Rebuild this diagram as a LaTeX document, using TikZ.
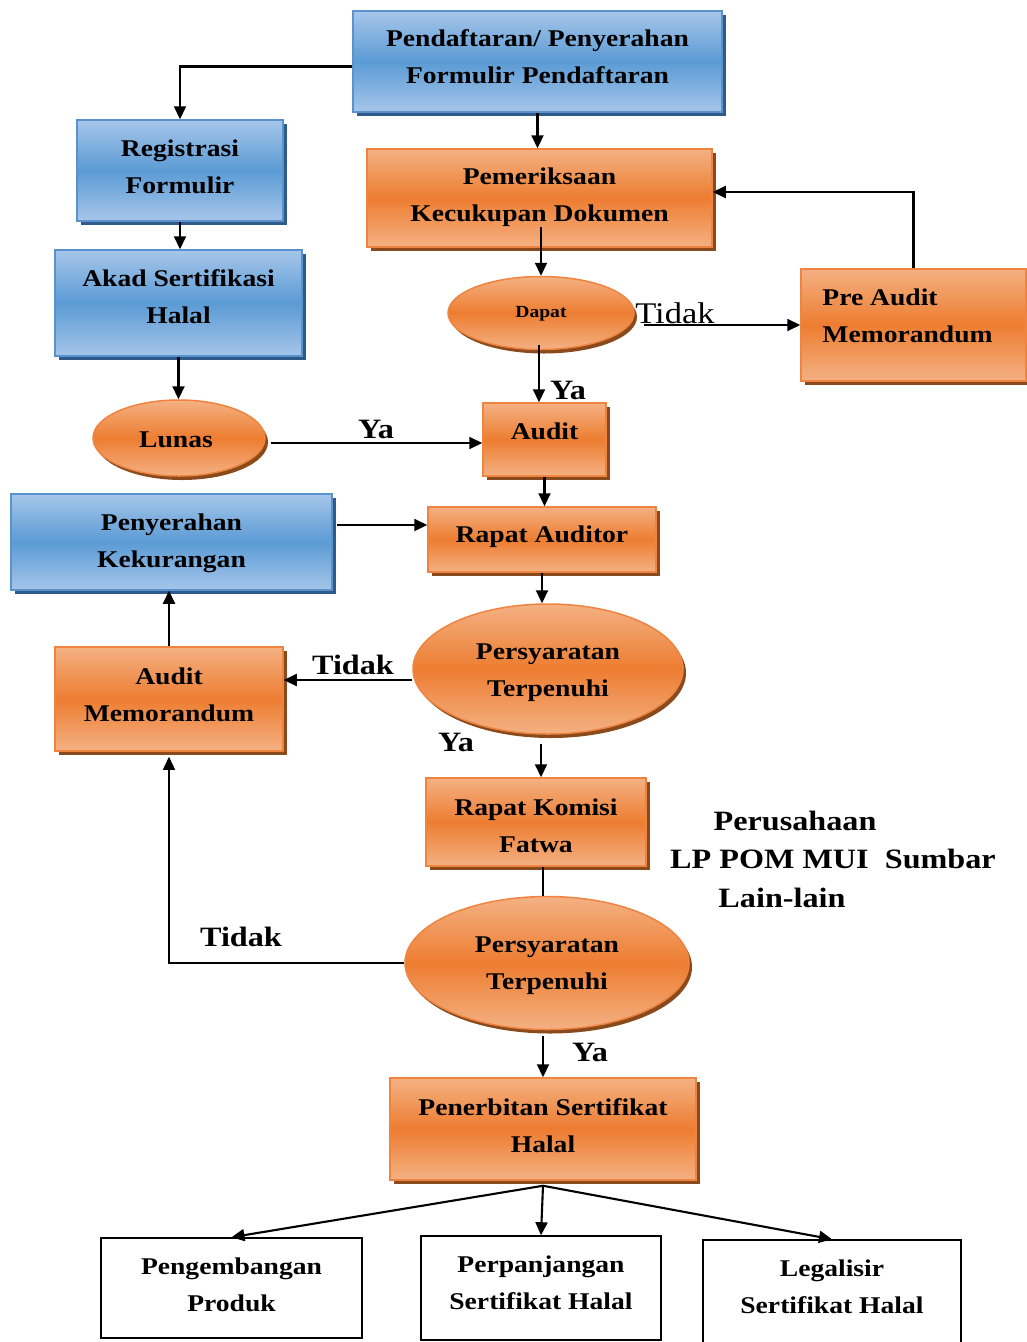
\documentclass[tikz,border=0pt]{standalone}
\usepackage{fontspec}
\setmainfont{Liberation Serif}[FakeStretch=1.15]
\usetikzlibrary{shapes.geometric,shadows,arrows.meta}
\definecolor{bL}{HTML}{A6C6E9}
\definecolor{bD}{HTML}{5B9BD5}
\definecolor{bB}{HTML}{5A93CC}
\definecolor{bS}{HTML}{2E5A8C}
\definecolor{oL}{HTML}{F4B183}
\definecolor{oD}{HTML}{ED7D31}
\definecolor{oB}{HTML}{EE8440}
\definecolor{oS}{HTML}{8A4A1C}
\newcommand{\tx}[1]{\begin{tabular}{@{}c@{}}#1\end{tabular}}
\newcommand{\txl}[1]{\begin{tabular}{@{}l@{}}#1\end{tabular}}
\begin{document}
\begin{tikzpicture}[x=1pt,y=-1pt,
 txt/.style={font=\bfseries\fontsize{24}{37}\selectfont, inner sep=0pt},
 shp/.style={inner sep=0pt},
 bluebox/.style={shp, rectangle, draw=bB, line width=1.5pt, top color=bL, bottom color=bL, middle color=bD,
   drop shadow={shadow xshift=4pt, shadow yshift=-4pt, fill=bS, opacity=1}},
 orbox/.style={shp, rectangle, draw=oB, line width=1.5pt, top color=oL, bottom color=oL, middle color=oD,
   drop shadow={shadow xshift=4pt, shadow yshift=-4pt, fill=oS, opacity=1}},
 orell/.style={shp, ellipse, draw=oB, line width=1.5pt, top color=oL, bottom color=oL, middle color=oD,
   drop shadow={shadow xshift=3pt, shadow yshift=-4pt, fill=oS, opacity=1}},
 wbox/.style={shp, rectangle, draw=black, line width=1.5pt, fill=white},
 arr/.style={line width=2.1pt, -{Triangle[length=13pt,width=12pt]}},
 thinarr/.style={line width=1.3pt, -{Triangle[length=13pt,width=12pt]}},
 lbl/.style={font=\bfseries\fontsize{28}{34}\selectfont, inner sep=0pt},
 lblr/.style={font=\fontsize{30}{34}\selectfont, inner sep=0pt},
]
\useasboundingbox[fill=white] (0,0) rectangle (1027,1342);

% shapes
\node[bluebox, minimum width=369pt, minimum height=101pt] (pend) at (537.5,61.5) {};
\node[bluebox, minimum width=206pt, minimum height=101pt] (reg) at (180,170.5) {};
\node[orbox, minimum width=345pt, minimum height=98pt] (pem) at (539.5,198) {};
\node[bluebox, minimum width=247pt, minimum height=106pt] (akad) at (178.5,303) {};
\node[orell, minimum width=186pt, minimum height=73pt] (dapat) at (541,313) {};
\node[orbox, minimum width=225pt, minimum height=112pt] (pre) at (913.5,325) {};
\node[orell, minimum width=172pt, minimum height=76pt] (lunas) at (179,438) {};
\node[orbox, minimum width=123pt, minimum height=73pt] (audit) at (544.5,439.5) {};
\node[bluebox, minimum width=321pt, minimum height=96pt] (peny) at (171.5,542) {};
\node[orbox, minimum width=228pt, minimum height=65pt] (rapa) at (542,539.5) {};
\node[orell, minimum width=270pt, minimum height=130pt] (pt1) at (548,669) {};
\node[orbox, minimum width=228pt, minimum height=104pt] (aum) at (169,699) {};
\node[orbox, minimum width=220pt, minimum height=88pt] (rapk) at (536,822) {};
\node[orell, minimum width=284pt, minimum height=133pt] (pt2) at (547,963) {};
\node[orbox, minimum width=306pt, minimum height=102pt] (pen) at (543,1129) {};
\node[wbox, minimum width=261pt, minimum height=100pt] (peng) at (231.5,1288) {};
\node[wbox, minimum width=240pt, minimum height=104pt] (perp) at (541,1288) {};
\node[wbox, minimum width=258pt, minimum height=106pt] (leg) at (832,1293) {};

% texts in shapes
\node[txt] (pendt) at ([yshift=3.5pt]pend.center) {\tx{Pendaftaran/ Penyerahan\\Formulir Pendaftaran}};
\node[txt] (regt) at ([yshift=3pt]reg.center) {\tx{Registrasi\\Formulir}};
\node[txt] (pemt) at ([yshift=2.5pt]pem.center) {\tx{Pemeriksaan\\Kecukupan Dokumen}};
\node[txt] (akadt) at ([yshift=5.5pt]akad.center) {\tx{Akad Sertifikasi\\Halal}};
\node[txt, font=\bfseries\fontsize{17}{20}\selectfont] (dapatt) at (dapat.center) {\tx{Dapat}};
\node[txt, anchor=west] (pret) at ([xshift=22pt,yshift=8.5pt]pre.west) {\txl{Pre Audit\\Memorandum}};
\node[txt] (lunast) at ([xshift=-3pt,yshift=-2pt]lunas.center) {\tx{Lunas}};
\node[txt] (auditt) at ([yshift=7.5pt]audit.center) {\tx{Audit}};
\node[txt] (penyt) at ([yshift=0.5pt]peny.center) {\tx{Penyerahan\\Kekurangan}};
\node[txt] (rapat) at ([yshift=4.5pt]rapa.center) {\tx{Rapat Auditor}};
\node[txt] (pt1t) at ([yshift=-2pt]pt1.center) {\tx{Persyaratan\\Terpenuhi}};
\node[txt] (aumt) at ([yshift=3.5pt]aum.center) {\tx{Audit\\Memorandum}};
\node[txt] (rapkt) at ([yshift=-4.5pt]rapk.center) {\tx{Rapat Komisi\\Fatwa}};
\node[txt] (pt2t) at ([yshift=-0.5pt]pt2.center) {\tx{Persyaratan\\Terpenuhi}};
\node[txt] (pent) at ([yshift=2.5pt]pen.center) {\tx{Penerbitan Sertifikat\\Halal}};
\node[txt] (pengt) at ([yshift=2.5pt]peng.center) {\tx{Pengembangan\\Produk}};
\node[txt] (perpt) at ([yshift=4pt]perp.center) {\tx{Perpanjangan\\Sertifikat Halal}};
\node[txt] (legt) at ([yshift=5pt]leg.center) {\tx{Legalisir\\Sertifikat Halal}};

% labels
\node[lblr] (t1) at (675,313) {Tidak};
\node[lbl] (y1) at (568,390) {Ya};
\node[lbl] (y2) at (376,429) {Ya};
\node[lbl] (t2) at (353,665) {Tidak};
\node[lbl] (y3) at (456,742) {Ya};
\node[lbl] (t3) at (241,937) {Tidak};
\node[lbl] (y4) at (590,1052) {Ya};
\node[lbl] (f1) at (795,821) {Perusahaan};
\node[lbl] (f2) at (833,859) {LP POM MUI\ \ Sumbar};
\node[lbl] (f3) at (782,898) {Lain-lain};

% helper coordinates
\coordinate (pt1b) at ([yshift=-9pt]pt1.south);
\coordinate (rapkn) at ([xshift=5pt]rapk.north);
\coordinate (auw) at ([yshift=-3.5pt]audit.west);

% connectors
\draw[arr] ([yshift=-5pt]pend.west) -| (reg.north);
\draw[arr] (pend.south) -- (pend.south |- pem.north);
\draw[arr] (reg.south) -- (reg.south |- akad.north);
\draw[arr] ([xshift=1.5pt,yshift=21pt]pem.south) -- (dapat.north);
\draw[arr] ([xshift=9pt]dapat.east |- pre.west) -- (pre.west);
\draw[arr] (pre.north) |- ([yshift=6pt]pem.east);
\draw[arr] ([xshift=-2pt,yshift=5pt]dapat.south) -- ([xshift=-2pt]dapat.south |- audit.north);
\draw[arr] (akad.south) -- (akad.south |- lunas.north);
\draw[arr] ([xshift=5pt]lunas.east |- auw) -- (auw);
\draw[arr] (audit.south) -- (audit.south |- rapa.north);
\draw[arr] ([xshift=4pt,yshift=17pt]peny.east) -- ([yshift=17pt]peny.east -| rapa.west);
\draw[arr] (rapa.south) -- (rapa.south |- pt1.north);
\draw[arr] ([yshift=-11pt]pt1.west) -- ([yshift=-11pt]pt1.west -| aum.east);
\draw[arr] (aum.north) -- (aum.north |- peny.south);
\draw[arr] (rapkn |- pt1b) -- (rapkn);
\draw[line width=2.1pt] ([xshift=7pt]rapk.south) -- ([xshift=7pt]rapk.south |- pt2.north);
\draw[thinarr] (pt2.west) -| ([yshift=-5pt]aum.south);
\draw[arr] ([yshift=-6pt]pt2.south -| pen.north) -- (pen.north);
\draw[arr] ([yshift=-5pt]pen.south) -- (peng.north);
\draw[arr] ([yshift=-5pt]pen.south) -- (perp.north);
\draw[arr] ([yshift=-5pt]pen.south) -- (leg.north);
\end{tikzpicture}
\end{document}
